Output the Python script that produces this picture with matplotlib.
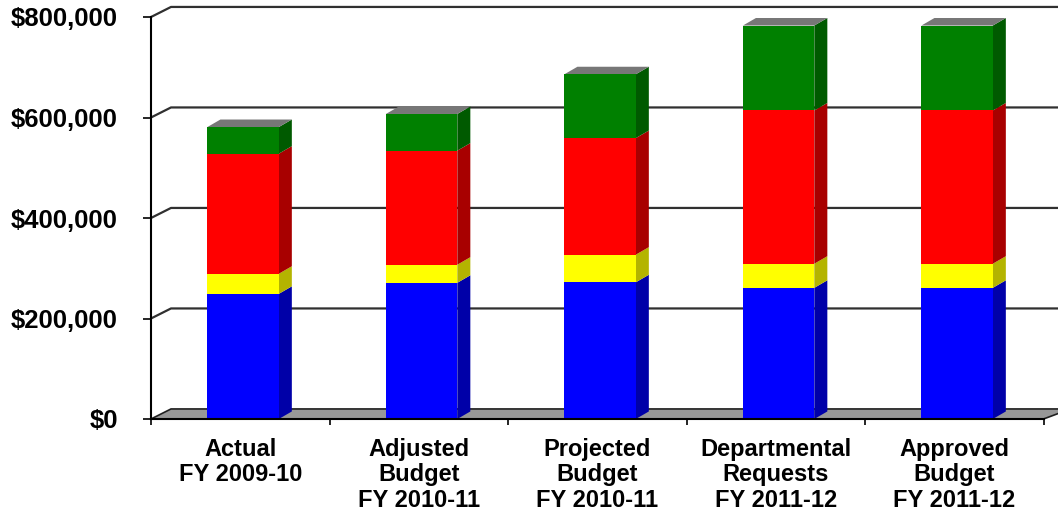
import matplotlib
matplotlib.use('Agg')
from matplotlib import pyplot as plt
from matplotlib.patches import Polygon
from matplotlib.ticker import FuncFormatter, FixedLocator
import numpy as np

plt.rcParams['font.family'] = ['Liberation Sans', 'DejaVu Sans']
plt.rcParams['font.weight'] = 'bold'

# data
categories = ['Actual\nFY 2009-10', 'Adjusted\nBudget\nFY 2010-11', 'Projected\nBudget\nFY 2010-11',
              'Departmental\nRequests\nFY 2011-12', 'Approved\nBudget\nFY 2011-12']
blue = [249000, 271000, 272000, 261000, 261000]
yellow = [40000, 36000, 55000, 48000, 48000]
red = [239000, 227000, 232000, 305000, 305000]
green = [53000, 73000, 127000, 169000, 169000]

series = [blue, yellow, red, green]
face_colors = ['#0000FF', '#FFFF00', '#FF0000', '#008000']
side_colors = ['#0000A8', '#B4B400', '#A80000', '#005A00']
top_color = '#777777'

# depth of the walls and of the bars, in data units
gdx, gdy = 0.112, 20000
bdx, bdy = 0.073, 15000
bw = 0.40
shift = 0.016

fig = plt.figure(figsize=(10.58, 5.17), dpi=100)
ax = fig.add_axes([151 / 1058, 98 / 517, 892.5 / 1058, 402 / 517])
ax.set_xlim(-0.5, 4.5)
ax.set_ylim(0, 800000)

# back wall gridlines
for v in [200000, 400000, 600000, 800000]:
    ax.plot([-0.5, -0.5 + gdx, 4.5 + gdx * 1.35], [v, v + gdy, v + gdy],
            color='#303030', lw=1.6, clip_on=False, zorder=1, solid_capstyle='butt')

# floor
floor = Polygon([(-0.5, 0), (4.5, 0), (4.5 + gdx * 1.35, gdy), (-0.5 + gdx, gdy)],
                closed=True, facecolor='#989898', edgecolor='#202020', lw=1.2,
                clip_on=False, zorder=2)
ax.add_patch(floor)

x = np.arange(len(categories)) + shift
bottom = np.zeros(len(categories))
for vals, fc, sc in zip(series, face_colors, side_colors):
    vals = np.array(vals, dtype=float)
    ax.bar(x, vals, bw, bottom=bottom, color=fc, edgecolor='none', zorder=4)
    for xi, b0, h in zip(x, bottom, vals):
        r = xi + bw / 2
        side = Polygon([(r, b0), (r + bdx, b0 + bdy), (r + bdx, b0 + h + bdy), (r, b0 + h)],
                       closed=True, facecolor=sc, edgecolor='none', zorder=3.5)
        ax.add_patch(side)
    bottom = bottom + vals

for xi, t in zip(x, bottom):
    l, r = xi - bw / 2, xi + bw / 2
    top = Polygon([(l, t), (l + bdx, t + bdy), (r + bdx, t + bdy), (r, t)],
                  closed=True, facecolor=top_color, edgecolor='none', zorder=3.5)
    ax.add_patch(top)

# axes styling
for s in ['top', 'right']:
    ax.spines[s].set_visible(False)
ax.spines['left'].set_linewidth(1.5)
ax.spines['bottom'].set_linewidth(1.5)
ax.spines['left'].set_zorder(6)
ax.spines['bottom'].set_zorder(6)

ax.yaxis.set_major_locator(FixedLocator([0, 200000, 400000, 600000, 800000]))
ax.yaxis.set_major_formatter(FuncFormatter(lambda v, p: '${:,.0f}'.format(v)))
ax.tick_params(axis='y', direction='out', length=5.8, width=1.2, pad=18, labelsize=18.5)

ax.set_xticks(np.arange(len(categories)))
ax.set_xticklabels(categories, fontsize=17, linespacing=1.15)
ax.set_xticks(np.arange(-0.5, 5.0, 1.0), minor=True)
ax.tick_params(axis='x', which='major', length=0, pad=13.5)
ax.tick_params(axis='x', which='minor', direction='out', length=4.3, width=1.2)

fig.savefig('out.png', dpi=100)
